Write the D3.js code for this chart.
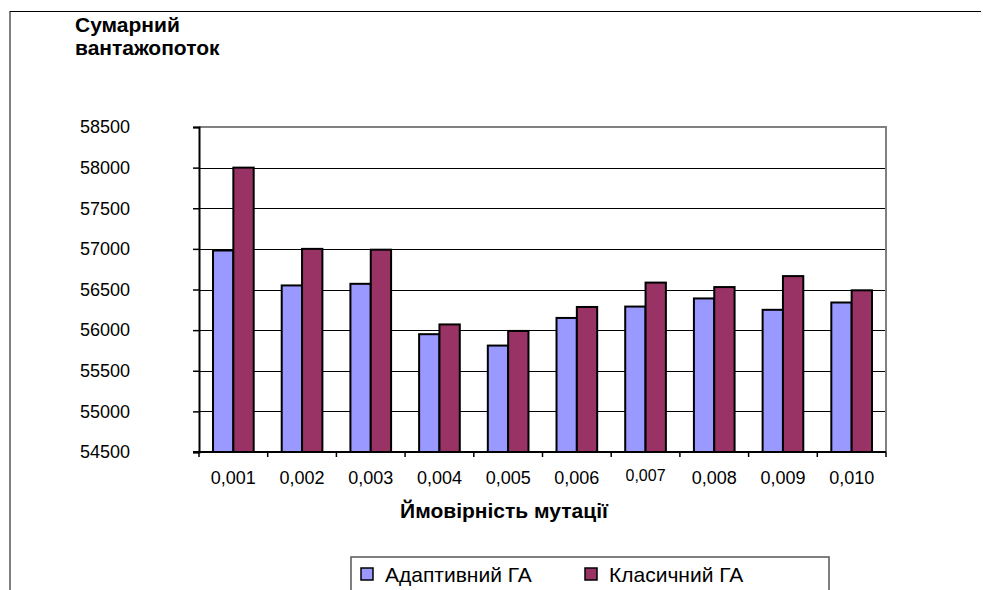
<!DOCTYPE html>
<html>
<head>
<meta charset="utf-8">
<script src="https://cdn.jsdelivr.net/npm/d3@7/dist/d3.min.js"></script>
<style>
  html, body { margin: 0; padding: 0; background: #fff; }
  svg { display: block; font-family: "Liberation Sans", Arial, sans-serif; }
</style>
</head>
<body>
<svg id="chart" width="983" height="590"></svg>
<script>
// Mutation probability categories
const categories = ["0,001", "0,002", "0,003", "0,004", "0,005", "0,006", "0,007", "0,008", "0,009", "0,010"];
// Series names
const seriesNames = ["Адаптивний ГА", "Класичний ГА"];
// Total cargo flow per series
const adaptiveValues = [56980, 56550, 56570, 55950, 55810, 56150, 56290, 56390, 56250, 56340];
const classicValues  = [58000, 57000, 56990, 56070, 55990, 56285, 56585, 56530, 56665, 56490];
// Value axis ticks
const yTicks = [54500, 55000, 55500, 56000, 56500, 57000, 57500, 58000, 58500];

const seriesColors = ["#9999FF", "#993366"];

const svg = d3.select("#chart");

// Outer chart frame (left and top edges)
svg.append("line").attr("x1", 10).attr("x2", 10).attr("y1", 11).attr("y2", 590)
  .attr("stroke", "#7f7f7f").attr("stroke-width", 2);
svg.append("line").attr("x1", 10).attr("x2", 981).attr("y1", 11.5).attr("y2", 11.5)
  .attr("stroke", "#000").attr("stroke-width", 1);

const plot = { left: 199, top: 127, right: 886, bottom: 452 };

const y = d3.scaleLinear().domain([54500, 58500]).range([plot.bottom, plot.top]);
const x = d3.scaleBand().domain(categories).range([plot.left, plot.right])
  .paddingInner(0.408).paddingOuter(0.204);
const xs = d3.scaleBand().domain(seriesNames).range([0, x.bandwidth()]);

// Horizontal gridlines
svg.append("g").selectAll("line").data(yTicks.slice(1, -1)).join("line")
  .attr("x1", plot.left).attr("x2", plot.right)
  .attr("y1", d => Math.round(y(d)) + 0.5).attr("y2", d => Math.round(y(d)) + 0.5)
  .attr("stroke", "#000").attr("stroke-width", 1);

// Plot area border (top and right)
svg.append("path")
  .attr("d", `M${plot.left},${plot.top}H${plot.right}V${plot.bottom}`)
  .attr("fill", "none").attr("stroke", "#808080").attr("stroke-width", 2);

// Bars
const rows = categories.map((c, i) => ({ cat: c, vals: [adaptiveValues[i], classicValues[i]] }));
svg.append("g").selectAll("g").data(rows).join("g")
  .attr("transform", d => `translate(${x(d.cat)},0)`)
  .selectAll("rect").data(d => d.vals.map((v, j) => ({ v, name: seriesNames[j], j }))).join("rect")
  .attr("x", d => xs(d.name))
  .attr("width", xs.bandwidth())
  .attr("y", d => y(d.v))
  .attr("height", d => plot.bottom - y(d.v))
  .attr("fill", d => seriesColors[d.j])
  .attr("stroke", "#000").attr("stroke-width", 2);

// Value axis
const yAxis = d3.axisLeft(y).tickValues(yTicks).tickSize(6).tickFormat(d3.format("d"));
const gy = svg.append("g").attr("transform", `translate(${plot.left},0)`).call(yAxis);
gy.select(".domain").attr("stroke", "#000").attr("stroke-width", 2);
gy.selectAll(".tick line").attr("stroke", "#000").attr("stroke-width", 1.5);
gy.selectAll(".tick text")
  .attr("x", -69).attr("text-anchor", "end")
  .attr("font-size", 18).attr("fill", "#000")
  .style("font-family", "'Liberation Sans', Arial, sans-serif");

// Category axis with ticks between categories
svg.append("line").attr("x1", plot.left - 6).attr("x2", plot.right)
  .attr("y1", plot.bottom).attr("y2", plot.bottom)
  .attr("stroke", "#000").attr("stroke-width", 2);
const boundaries = d3.range(categories.length + 1).map(i => plot.left + i * x.step());
svg.append("g").selectAll("line").data(boundaries).join("line")
  .attr("x1", d => d).attr("x2", d => d)
  .attr("y1", plot.bottom).attr("y2", plot.bottom + 5)
  .attr("stroke", "#000").attr("stroke-width", 1.5);
svg.append("g").selectAll("text").data(categories).join("text")
  .attr("x", d => x(d) + x.bandwidth() / 2)
  .attr("y", (d, i) => i === 6 ? 481 : 484)
  .attr("text-anchor", "middle")
  .attr("font-size", (d, i) => i === 6 ? 16 : 18)
  .attr("fill", "#000")
  .text(d => d);

// Axis titles
const title = svg.append("text").attr("x", 75).attr("font-size", 21).attr("font-weight", "bold");
title.append("tspan").attr("x", 75).attr("y", 32).text("Сумарний");
title.append("tspan").attr("x", 75).attr("y", 55).text("вантажопоток");

svg.append("text").attr("x", 504).attr("y", 518).attr("text-anchor", "middle")
  .attr("font-size", 21).attr("font-weight", "bold").text("Ймовірність мутації");

// Legend
const legend = svg.append("g");
legend.append("rect").attr("x", 351).attr("y", 557).attr("width", 478).attr("height", 60)
  .attr("fill", "#fff").attr("stroke", "#555").attr("stroke-width", 1.5);
const legendX = [361, 585];
const items = legend.selectAll("g.item").data(seriesNames).join("g").attr("class", "item")
  .attr("transform", (d, i) => `translate(${legendX[i]},568)`);
items.append("rect").attr("width", 12).attr("height", 12)
  .attr("fill", (d, i) => seriesColors[i]).attr("stroke", "#000").attr("stroke-width", 1.5);
items.append("text").attr("x", 24).attr("y", 13.5).attr("font-size", 21).text(d => d);
</script>
</body>
</html>
